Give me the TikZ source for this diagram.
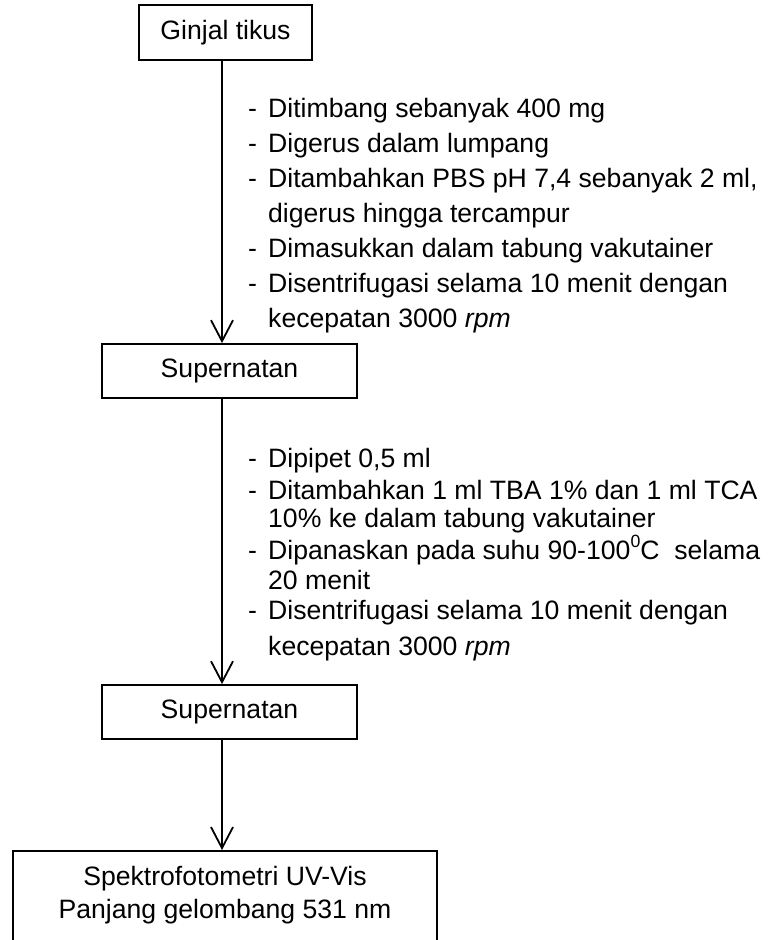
\documentclass[tikz,border=0pt]{standalone}
\usepackage{fontspec}
\setmainfont{Liberation Sans}
\usetikzlibrary{arrows.meta}
\newcommand\fsz{\fontsize{26.6}{32}\selectfont}
\newcommand\supz[1]{\raisebox{0.42em}{\fontsize{17.7}{18}\selectfont #1}}
\begin{document}
\begin{tikzpicture}[x=1pt,y=-1pt,
  box/.style={draw, line width=1.8pt, inner sep=0pt, font=\fsz},
  txt/.style={inner sep=0pt, anchor=base west, font=\fsz},
  arr/.style={line width=1.8pt, -{Straight Barb[length=21pt,width=22pt]}}]
\useasboundingbox[fill=white] (0,0) rectangle (769,940);
\clip (0,0) rectangle (769,940);
% boxes
\node[box, minimum width=173pt, minimum height=55pt] (b1) at (225.5,32.5) {Ginjal tikus};
\node[box, minimum width=255pt, minimum height=54pt] (b2) at (229.5,371) {Supernatan};
\node[box, minimum width=255pt, minimum height=54pt] (b3) at (229.5,712) {Supernatan};
\node[box, minimum width=424pt, minimum height=130pt, anchor=north] (b4) at (225,850) {};
\node[inner sep=0pt, anchor=base, font=\fsz] (t4a) at (225,885) {Spektrofotometri UV-Vis};
\node[inner sep=0pt, anchor=base, font=\fsz] (t4b) at (225,918) {Panjang gelombang 531 nm};
% arrows
\coordinate (ax) at (222,0);
\draw[arr] (b1.south -| ax) -- (b2.north -| ax);
\draw[arr] (b2.south -| ax) -- (b3.north -| ax);
\draw[arr] (b3.south -| ax) -- (b4.north -| ax);
% block 1
\node[txt] (d11) at (248,117) {-};
\node[txt] (s11) at (268,117) {Ditimbang sebanyak 400 mg};
\node[txt] (d12) at (248,152) {-};
\node[txt] (s12) at (268,152) {Digerus dalam lumpang};
\node[txt] (d13) at (248,187) {-};
\node[txt] (s13) at (268,187) {Ditambahkan PBS pH 7,4 sebanyak 2 ml,};
\node[txt] (s13b) at (268,222) {digerus hingga tercampur};
\node[txt] (d14) at (248,257) {-};
\node[txt] (s14) at (268,257) {Dimasukkan dalam tabung vakutainer};
\node[txt] (d15) at (248,292) {-};
\node[txt] (s15) at (268,292) {Disentrifugasi selama 10 menit dengan};
\node[txt] (s15b) at (268,327) {kecepatan 3000 \textit{rpm}};
% block 2
\node[txt] (d21) at (248,467) {-};
\node[txt] (s21) at (268,467) {Dipipet 0,5 ml};
\node[txt] (d22) at (248,499) {-};
\node[txt] (s22) at (268,499) {Ditambahkan 1 ml TBA 1\% dan 1 ml TCA};
\node[txt] (s22b) at (268,527) {10\% ke dalam tabung vakutainer};
\node[txt] (d23) at (248,559) {-};
\node[txt] (s23) at (268,559) {Dipanaskan pada suhu 90-100\supz{0}C\ \ selama};
\node[txt] (s23b) at (268,589) {20 menit};
\node[txt] (d24) at (248,619) {-};
\node[txt] (s24) at (268,619) {Disentrifugasi selama 10 menit dengan};
\node[txt] (s24b) at (268,655) {kecepatan 3000 \textit{rpm}};
\end{tikzpicture}
\end{document}
